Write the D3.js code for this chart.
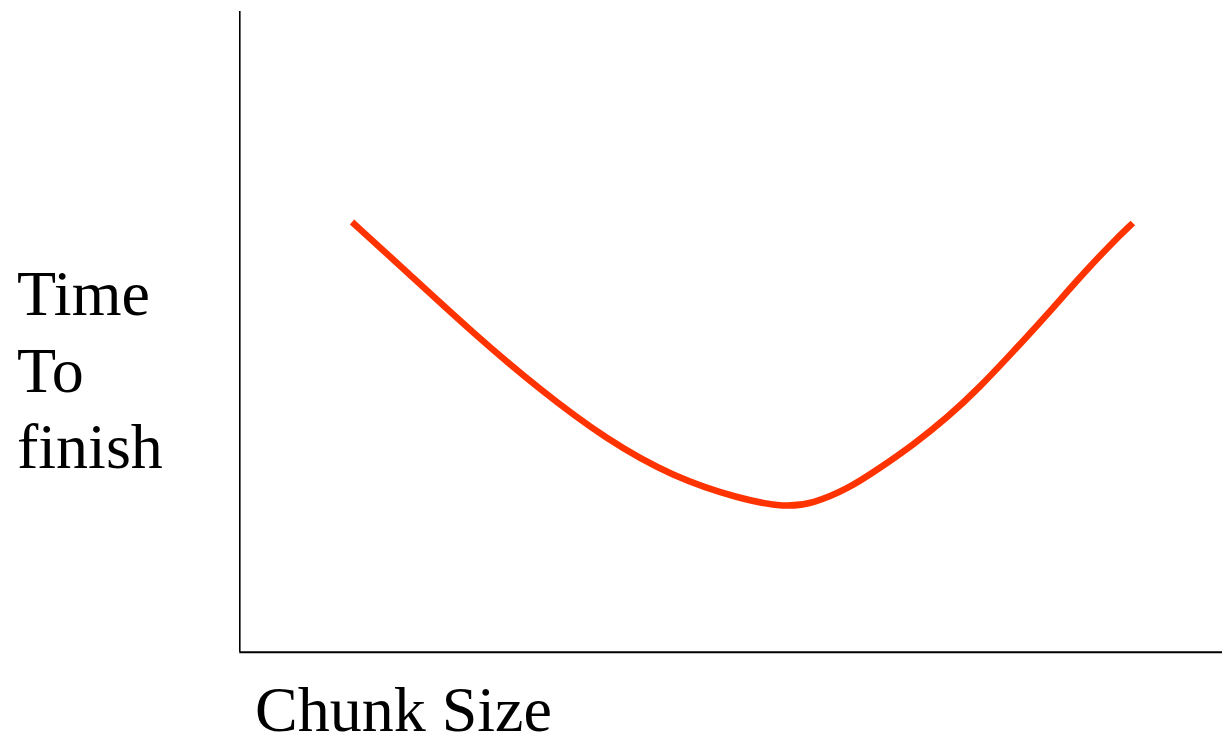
<!DOCTYPE html>
<html>
	<head>
		<title>Chunk Size vs Time To finish</title>
		<style>
			body, html {
				margin: 0;
				padding: 0;
				background: #fff;
			}
		</style>
	</head>
	<body>

		<svg id="svg" width="1222" height="738"></svg>

		<script src="https://d3js.org/d3.v7.min.js"></script>
		<script>
		// Data (no units on the original, 0-100 both ways)
		const chunkSize = [11.47, 17.07, 23.78, 30.60, 37.42, 44.13, 50.95, 55.53, 58.38, 61.84, 65.19, 68.55, 72.01, 75.37, 78.72, 82.18, 85.54, 88.90, 90.93]
		const timeToFinish = [67.07, 59.26, 49.74, 40.85, 33.04, 27.27, 23.83, 22.51, 23.13, 25.32, 28.67, 32.26, 36.48, 41.31, 46.78, 52.55, 58.48, 63.95, 66.91]
		const yLabelLines = ['Time', 'To', 'finish']
		const xLabel = 'Chunk Size'

		const data = chunkSize.map((c, i) => ({ x: c, y: timeToFinish[i] }))

		// plot box (named so they don't clash with window.top etc)
		const width = 1222
		const height = 738
		const plotLeft = 239.3
		const plotRight = 1222
		const plotTop = 11
		const plotBottom = 651.7
		const serif = "'Liberation Serif', 'Times New Roman', 'DejaVu Serif', serif"

		const svg = d3.select('#svg')
			.attr('width', width)
			.attr('height', height)

		const xscale = d3.scaleLinear()
			.domain([0, 100])
			.range([plotLeft, plotRight])

		const yscale = d3.scaleLinear()
			.domain([0, 100])
			.range([plotBottom, plotTop])

		// curve - basis smooths out small reading errors
		const linegen = d3.line()
			.x(d => xscale(d.x))
			.y(d => yscale(d.y))
			.curve(d3.curveBasis)

		svg.append('path')
			.attr('d', linegen(data))
			.attr('stroke', '#ff3300')
			.attr('stroke-width', 6.5)
			.attr('fill', 'none')

		// axes, just the plain lines, no ticks
		const bottomAxis = d3.axisBottom(xscale).tickValues([]).tickSizeOuter(0)
		const leftAxis = d3.axisLeft(yscale).tickValues([]).tickSizeOuter(0)

		svg.append('g')
			.attr('transform', `translate(0, ${plotBottom})`)
			.call(bottomAxis)
			.select('.domain')
			.attr('transform', 'translate(-0.5, 0)')
			.attr('stroke', '#000')
			.attr('stroke-width', 2)

		svg.append('g')
			.attr('transform', `translate(${plotLeft}, 0)`)
			.call(leftAxis)
			.select('.domain')
			.attr('transform', 'translate(0, -0.5)')
			.attr('stroke', '#000')
			.attr('stroke-width', 1.6)

		// labels
		svg.append('g')
			.selectAll('text')
			.data(yLabelLines)
			.join('text')
			.attr('x', 17)
			.attr('y', (d, i) => 315 + i * 76.5)
			.attr('font-family', serif)
			.attr('font-size', 64)
			.attr('fill', '#000')
			.text(d => d)

		svg.append('text')
			.attr('x', 255)
			.attr('y', 731)
			.attr('font-family', serif)
			.attr('font-size', 64)
			.attr('fill', '#000')
			.text(xLabel)
		</script>
	</body>
</html>
